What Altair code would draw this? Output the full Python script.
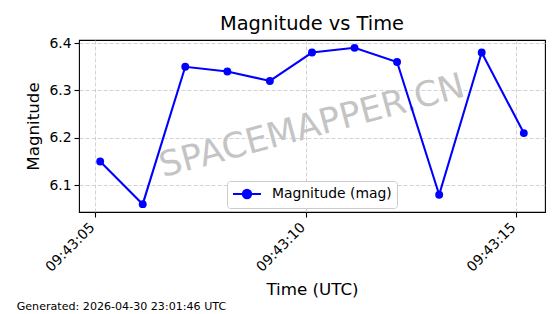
import altair as alt
import pandas as pd

# ---- text ----
title_text = "Magnitude vs Time"
x_title = "Time (UTC)"
y_title = "Magnitude"
series_name = "Magnitude (mag)"
watermark = ["SPACEMAPPER.CN"]
footer = ["Generated: 2026-04-30 23:01:46 UTC"]

# ---- data (seconds past 09:43:00 UTC) ----
seconds = [5.12, 6.13, 7.14, 8.14, 9.15, 10.15, 11.16, 12.17, 13.17, 14.18, 15.18]
magnitude = [6.15, 6.06, 6.35, 6.34, 6.32, 6.38, 6.39, 6.36, 6.08, 6.38, 6.21]

x_tick_values = [5, 10, 15]
x_tick_labels = ["09:43:05", "09:43:10", "09:43:15"]
y_tick_values = [6.1, 6.2, 6.3, 6.4]

df = pd.DataFrame({"sec": seconds, "mag": magnitude, "series": [series_name] * len(seconds)})


def padded(vals, frac=0.05):
    lo, hi = min(vals), max(vals)
    r = hi - lo
    return [lo - frac * r, hi + frac * r]


x_domain = padded(seconds)
y_domain = padded(magnitude)

label_expr = "''"
for v, l in reversed(list(zip(x_tick_values, x_tick_labels))):
    label_expr = f"datum.value == {v} ? '{l}' : {label_expr}"

FONT = "DejaVu Sans"
W, H = 466, 172

# line with a dot, drawn wider than the nominal symbol box
legend_path = "M-2,0H2M0.6,0A0.6,0.6,0,1,1,-0.6,0A0.6,0.6,0,1,1,0.6,0Z"

x_enc = alt.X(
    "sec:Q",
    scale=alt.Scale(domain=x_domain, nice=False, zero=False),
    axis=alt.Axis(
        values=x_tick_values,
        labelExpr=label_expr,
        labelAngle=-45,
        labelAlign="right",
        labelBaseline="middle",
        labelPadding=8,
        labelOffset=-3,
        labelFlush=False,
        labelOverlap=False,
        title=x_title,
        titleX=W / 2,
        titleY=82,
        titleBaseline="alphabetic",
        titleAlign="center",
    ),
)
y_enc = alt.Y(
    "mag:Q",
    scale=alt.Scale(domain=y_domain, nice=False, zero=False),
    axis=alt.Axis(
        values=y_tick_values,
        format=".1f",
        labelPadding=3,
        title=y_title,
        titleX=-40.5,
        titleY=H / 2,
        titleBaseline="alphabetic",
        titleAlign="center",
        titleAngle=270,
    ),
)
color_enc = alt.Color(
    "series:N",
    scale=alt.Scale(domain=[series_name], range=["blue"]),
    legend=alt.Legend(
        title=None,
        orient="none",
        legendX=148,
        legendY=141,
        symbolType=legend_path,
        symbolSize=196,
        symbolOffset=7,
        symbolStrokeWidth=2,
        symbolFillColor="blue",
        symbolStrokeColor="blue",
        labelFont=FONT,
        labelFontSize=13.9,
        labelColor="black",
        labelOffset=17,
        padding=5,
        strokeColor="#cccccc",
        fillColor="white",
        cornerRadius=3,
    ),
)

wm = alt.Chart(pd.DataFrame({"t": watermark})).mark_text(
    angle=345, fontSize=35, font=FONT, color="#c4c4c4", align="center", baseline="middle"
).encode(x=alt.value(W / 2), y=alt.value(H / 2), text="t:N")

base = alt.Chart(df).encode(x=x_enc, y=y_enc, color=color_enc)
line = base.mark_line(strokeWidth=2.1)
pts = base.mark_point(filled=True, size=62, opacity=1, shape="circle")

foot = alt.Chart(pd.DataFrame({"t": footer})).mark_text(
    fontSize=11.1, font=FONT, color="black", align="left", baseline="alphabetic"
).encode(x=alt.value(-62.3), y=alt.value(270), text="t:N")

chart = (
    alt.layer(wm, line, pts, foot)
    .properties(
        width=W,
        height=H,
        title=alt.TitleParams(
            title_text, fontSize=19.4, font=FONT, fontWeight="normal", color="black",
            anchor="middle", offset=2,
        ),
        autosize=alt.AutoSizeParams(type="none"),
        padding={"left": 79, "top": 40, "right": 15, "bottom": 102},
        background="white",
    )
    .configure_view(stroke="black", strokeWidth=1.1)
    .configure_axis(
        domain=False,
        tickColor="black",
        tickWidth=1.1,
        tickSize=5,
        labelFont=FONT,
        labelFontSize=13.9,
        labelColor="black",
        titleFont=FONT,
        titleFontSize=16.7,
        titleFontWeight="normal",
        titleColor="black",
        grid=True,
        gridColor="#c8c8c8",
        gridDash=[4, 2],
        gridWidth=0.8,
    )
)

chart.save("out.html", embed_options={"renderer": "svg", "actions": False})
